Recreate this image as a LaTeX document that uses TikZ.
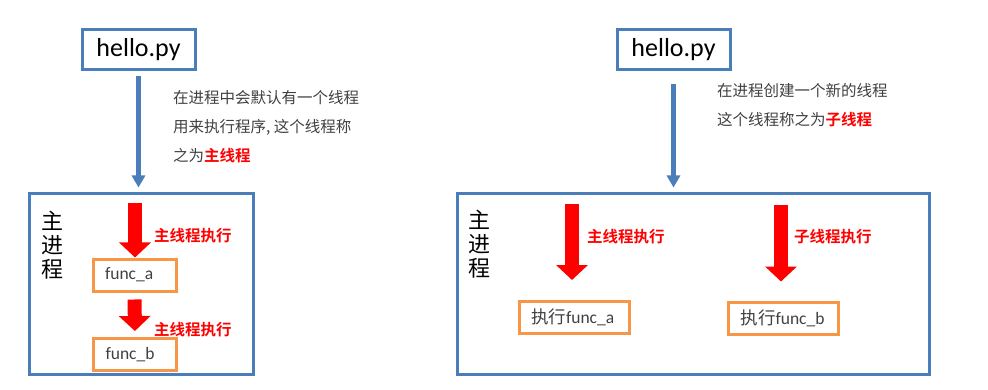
\documentclass[tikz,border=0pt]{standalone}
\usepackage{fontspec}
\setmainfont{Carlito}
\newfontfamily\cjk{Noto Sans CJK SC}[BoldFont={Noto Sans CJK SC Bold}]
\usetikzlibrary{arrows.meta}
\definecolor{fileblue}{RGB}{74,126,187}
\definecolor{funcorange}{RGB}{247,150,70}
\definecolor{notegray}{RGB}{64,64,64}

\begin{document}
\begin{tikzpicture}[x=1pt,y=-1pt,
  filebox/.style={draw=fileblue,line width=3pt,minimum width=113pt,minimum height=40pt,inner sep=0pt,font=\fontsize{26}{30}\selectfont},
  procbox/.style={draw=fileblue,line width=3pt,minimum height=180pt,inner sep=0pt},
  funcbox/.style={draw=funcorange,line width=3pt,text width=#1,inner xsep=12pt,inner ysep=0pt,minimum height=32pt,align=left,text=notegray,font=\fontsize{17.5}{20}\selectfont},
  flowarrow/.style={draw=fileblue,line width=4.5pt,-{Triangle[width=13pt,length=12pt]}},
  runarrow/.style={draw=red,line width=14pt,-{Triangle[width=31pt,length=15pt]}},
  runlabel/.style={anchor=west,inner sep=0pt,text=red,font=\cjk\bfseries\fontsize{15.5}{18}\selectfont},
  notetext/.style={anchor=west,inner sep=0pt,align=left,text=notegray,font=\cjk\fontsize{15.5}{29}\selectfont},
  procname/.style={inner sep=0pt,align=center,font=\cjk\fontsize{22}{24}\selectfont}]
\useasboundingbox (0,0) rectangle (988,390);

% main thread only
\node(hello1)[filebox] at (138.5,49.5) {hello.py};
\node(proc1)[procbox,minimum width=224pt] at (141,284) {};
\node(pname1)[procname] at (52,245) {主\\进\\程};
\node(note1)[notetext] at (173,127) {在进程中会默认有一个线程\\用来执行程序, 这个线程称\\之为{\bfseries\color{red}主线程}};
\node(fa)[funcbox=59pt] at (134.5,275) {func\_a};
\node(fb)[funcbox=59pt] at (135,354.5) {func\_b};
\coordinate(s1) at (135,203);

\draw[flowarrow] (hello1.south) [shorten <=5pt,shorten >=5pt] -- (hello1.south |- proc1.north);
\draw[runarrow] (s1) -- (s1 |- fa.north);
\draw[runarrow] (fa.south) [shorten <=7pt,shorten >=6pt] -- (fb.north);
\node(lab1)[runlabel] at (154,236) {主线程执行};
\node(lab2)[runlabel] at (154,330) {主线程执行};

% main thread plus a child thread
\node(hello2)[filebox] at (673.5,49.5) {hello.py};
\node(proc2)[procbox,minimum width=472pt] at (693,284) {};
\node(pname2)[procname] at (479,244) {主\\进\\程};
\node(note2)[notetext] at (717,105.5) {在进程创建一个新的线程\\这个线程称之为{\bfseries\color{red}子线程}};
\node(ta)[funcbox=86pt] at (574,317.5) {{\cjk 执行}func\_a};
\node(tb)[funcbox=86pt] at (783.5,318) {{\cjk 执行}func\_b};
\coordinate(s3) at (572,204);
\coordinate(s4) at (781,205);

\draw[flowarrow] (hello2.south) [shorten <=13pt,shorten >=5pt] -- (hello2.south |- proc2.north);
\draw[runarrow] (s3) [shorten >=20pt] -- (s3 |- ta.north);
\draw[runarrow] (s4) [shorten >=19pt] -- (s4 |- tb.north);
\node(lab3)[runlabel] at (587,237) {主线程执行};
\node(lab4)[runlabel] at (794,237) {子线程执行};

\end{tikzpicture}
\end{document}
